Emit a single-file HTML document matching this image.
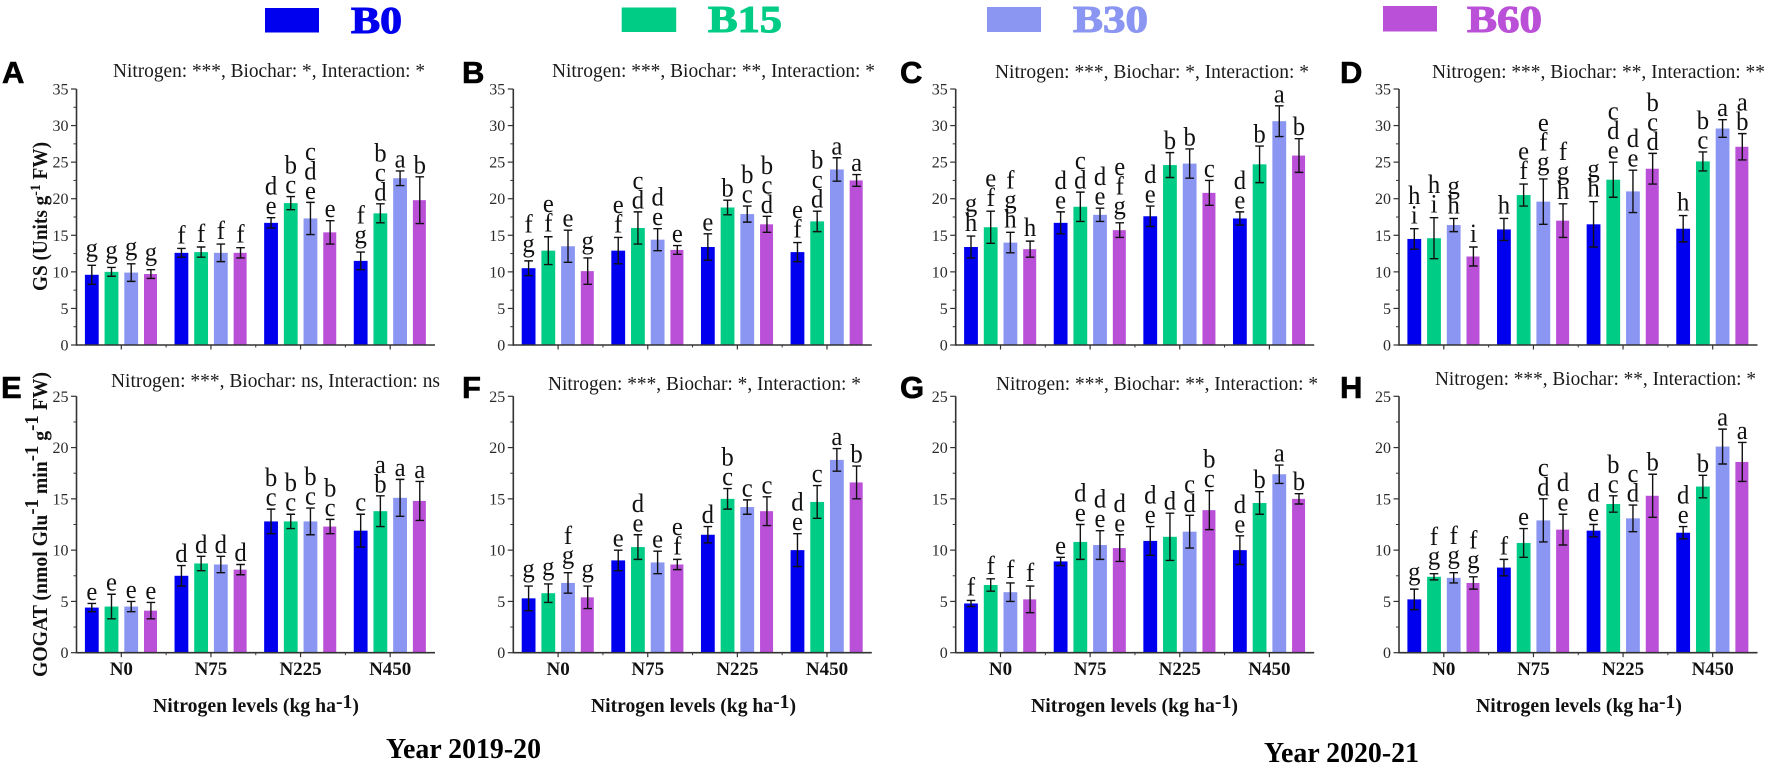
<!DOCTYPE html>
<html lang="en">
<head>
<meta charset="utf-8">
<title>GS and GOGAT activity under nitrogen and biochar treatments</title>
<style>
html,body{margin:0;padding:0;background:#fff;}
svg{display:block;}
text{font-family:"Liberation Serif",serif;}
.panel-tag{font-family:"Liberation Sans",sans-serif;font-weight:700;font-size:31px;fill:#000;stroke:#000;stroke-width:.6px;}
.note{font-size:20px;fill:#1a1a1a;}
.xt{font-size:20px;font-weight:700;fill:#111;}
.yt{font-size:21px;font-weight:700;fill:#111;}
.leg{font-size:38px;font-weight:700;stroke-width:1.1px;}
.year{font-size:29px;font-weight:700;fill:#000;}
</style>
</head>
<body>
<svg id="figure" xmlns="http://www.w3.org/2000/svg" width="1772" height="768" viewBox="0 0 1772 768">
  <rect x="0" y="0" width="1772" height="768" fill="#fff"/>

  <g>
    <rect x="265" y="8" width="54" height="24.5" fill="#0000ee"/>
    <text class="leg" x="351" y="33" fill="#0000ee" stroke="#0000ee" textLength="51" lengthAdjust="spacingAndGlyphs">B0</text>
    <rect x="621.7" y="7.5" width="54.5" height="24.5" fill="#00cc85"/>
    <text class="leg" x="708" y="32" fill="#00cc85" stroke="#00cc85" textLength="74" lengthAdjust="spacingAndGlyphs">B15</text>
    <rect x="987" y="7" width="54" height="25" fill="#8a96f2"/>
    <text class="leg" x="1073" y="32" fill="#8a96f2" stroke="#8a96f2" textLength="75" lengthAdjust="spacingAndGlyphs">B30</text>
    <rect x="1383" y="6" width="54" height="25.5" fill="#bb50d8"/>
    <text class="leg" x="1467" y="32" fill="#bb50d8" stroke="#bb50d8" textLength="75" lengthAdjust="spacingAndGlyphs">B60</text>
  </g>

  <g>
    <text class="panel-tag" x="2" y="83">A</text>
    <text class="panel-tag" x="462" y="83">B</text>
    <text class="panel-tag" x="900" y="83">C</text>
    <text class="panel-tag" x="1340" y="83">D</text>
    <text class="panel-tag" x="1" y="398">E</text>
    <text class="panel-tag" x="462" y="398">F</text>
    <text class="panel-tag" x="900" y="398">G</text>
    <text class="panel-tag" x="1340" y="398">H</text>
  </g>

  <g>
    <text class="note" x="113" y="77" textLength="312" lengthAdjust="spacingAndGlyphs">Nitrogen: ***, Biochar: *, Interaction: *</text>
    <text class="note" x="552" y="77" textLength="323" lengthAdjust="spacingAndGlyphs">Nitrogen: ***, Biochar: **, Interaction: *</text>
    <text class="note" x="995" y="78" textLength="314" lengthAdjust="spacingAndGlyphs">Nitrogen: ***, Biochar: *, Interaction: *</text>
    <text class="note" x="1432" y="78" textLength="333" lengthAdjust="spacingAndGlyphs">Nitrogen: ***, Biochar: **, Interaction: **</text>
    <text class="note" x="111" y="387" textLength="329" lengthAdjust="spacingAndGlyphs">Nitrogen: ***, Biochar: ns, Interaction: ns</text>
    <text class="note" x="548" y="390" textLength="313" lengthAdjust="spacingAndGlyphs">Nitrogen: ***, Biochar: *, Interaction: *</text>
    <text class="note" x="996" y="390" textLength="322" lengthAdjust="spacingAndGlyphs">Nitrogen: ***, Biochar: **, Interaction: *</text>
    <text class="note" x="1435" y="385" textLength="321" lengthAdjust="spacingAndGlyphs">Nitrogen: ***, Biochar: **, Interaction: *</text>
  </g>

  <text class="yt" transform="translate(47 291) rotate(-90)" x="0" y="0" textLength="149" lengthAdjust="spacingAndGlyphs">GS (Units g<tspan dy="-7" font-size="15">-1</tspan><tspan dy="7"> FW)</tspan></text>
  <text class="yt" transform="translate(47 677) rotate(-90)" x="0" y="0" textLength="305" lengthAdjust="spacingAndGlyphs">GOGAT (nmol Glu<tspan dy="-9" font-size="20">-1</tspan><tspan dy="9"> min</tspan><tspan dy="-9" font-size="20">-1</tspan><tspan dy="9"> g</tspan><tspan dy="-9" font-size="20">-1</tspan><tspan dy="9"> FW)</tspan></text>

  <g>
    <text class="xt" x="153" y="712" textLength="206" lengthAdjust="spacingAndGlyphs">Nitrogen levels (kg ha<tspan dy="-4" font-size="20">-1</tspan><tspan dy="4">)</tspan></text>
    <text class="xt" x="591" y="712" textLength="205" lengthAdjust="spacingAndGlyphs">Nitrogen levels (kg ha<tspan dy="-4" font-size="20">-1</tspan><tspan dy="4">)</tspan></text>
    <text class="xt" x="1031" y="712" textLength="207" lengthAdjust="spacingAndGlyphs">Nitrogen levels (kg ha<tspan dy="-4" font-size="20">-1</tspan><tspan dy="4">)</tspan></text>
    <text class="xt" x="1476" y="712" textLength="206" lengthAdjust="spacingAndGlyphs">Nitrogen levels (kg ha<tspan dy="-4" font-size="20">-1</tspan><tspan dy="4">)</tspan></text>
  </g>

  <text class="year" x="386" y="758" textLength="155" lengthAdjust="spacingAndGlyphs">Year 2019-20</text>
  <text class="year" x="1264" y="762" textLength="155" lengthAdjust="spacingAndGlyphs">Year 2020-21</text>

  <g id="plots"></g>
</svg>

<script>
const categories = ['N0', 'N75', 'N225', 'N450'];
const seriesNames = ['B0', 'B15', 'B30', 'B60'];
const seriesColors = ['#0000ee', '#00cc85', '#8a96f2', '#bb50d8'];
const gsTicks = [0, 5, 10, 15, 20, 25, 30, 35];
const gogatTicks = [0, 5, 10, 15, 20, 25];

const valuesA = [[9.6,10,9.9,9.7],[12.6,12.7,12.6,12.6],[16.7,19.4,17.3,15.4],[11.5,18,22.8,19.8]];
const errorsA = [[1.3,0.6,1.2,0.6],[0.6,0.7,1.2,0.7],[0.7,0.9,2.2,1.6],[1.2,1.3,1.0,3.2]];
const lettersA = [['g','g','g','g'],['f','f','f','f'],['d e','b c','c d e','e'],['f g','b c d','a','b']];

const valuesB = [[10.5,12.9,13.5,10.1],[12.9,16,14.4,13],[13.4,18.8,17.9,16.5],[12.7,16.9,24,22.5]];
const errorsB = [[1.0,1.9,2.2,1.8],[1.8,2.2,1.5,0.6],[1.8,1.0,1.1,1.1],[1.3,1.4,1.6,0.8]];
const lettersB = [['f g','e f','e','g'],['e f','c d','d e','e'],['e','b','b c','b c d'],['e f','b c d','a','a']];

const valuesC = [[13.4,16.1,14,13.1],[16.7,18.9,17.8,15.7],[17.6,24.6,24.8,20.8],[17.3,24.7,30.6,25.9]];
const errorsC = [[1.5,2.2,1.4,1.1],[1.5,2.0,0.9,1.0],[1.4,1.7,2.0,1.7],[0.9,2.5,2.1,2.3]];
const lettersC = [['g h','e f','f g h','h'],['d e','c d','d e','e f g'],['d e','b','b','c'],['d e','b','a','b']];

const valuesD = [[14.5,14.6,16.4,12.1],[15.8,20.5,19.6,17],[16.5,22.6,21,24.1],[15.9,25.1,29.6,27.1]];
const errorsD = [[1.4,2.8,0.9,1.3],[1.5,1.5,3.1,2.3],[3.1,2.4,2.9,2.1],[1.8,1.3,1.2,1.8]];
const lettersD = [['h i','h i','g h','i'],['h','e f','e f g','f g h'],['g h','c d e','d e','b c d'],['h','b c','a','a b']];

const valuesE = [[4.4,4.5,4.5,4.1],[7.5,8.7,8.6,8.1],[12.8,12.8,12.8,12.3],[11.9,13.8,15.1,14.8]];
const errorsE = [[0.4,1.2,0.5,0.8],[1.0,0.7,0.8,0.5],[1.2,0.7,1.3,0.7],[1.6,1.5,1.8,1.9]];
const lettersE = [['e','e','e','e'],['d','d','d','d'],['b c','b c','b c','b c'],['c','a b','a','a']];

const valuesF = [[5.3,5.8,6.8,5.4],[9,10.3,8.8,8.6],[11.5,15,14.2,13.8],[10,14.7,18.8,16.6]];
const errorsF = [[1.2,0.9,1.0,1.1],[1.0,1.2,1.1,0.5],[0.8,1.0,0.7,1.4],[1.6,1.6,1.1,1.6]];
const lettersF = [['g','g','f g','g'],['e','d e','e','e f'],['d','b c','c','c'],['d e','c','a','b']];

const valuesG = [[4.8,6.6,5.9,5.2],[8.9,10.8,10.5,10.2],[10.9,11.3,11.8,13.9],[10,14.6,17.4,15]];
const errorsG = [[0.3,0.6,0.9,1.3],[0.4,1.7,1.4,1.3],[1.4,2.3,1.6,1.9],[1.4,1.1,0.9,0.5]];
const lettersG = [['f','f','f','f'],['e','d e','d e','d e'],['d e','d','c d','b c'],['d e','b','a','b']];

const valuesH = [[5.2,7.4,7.3,6.8],[8.3,10.7,12.9,12],[11.9,14.5,13.1,15.3],[11.7,16.2,20.1,18.6]];
const errorsH = [[1.0,0.3,0.5,0.6],[0.8,1.4,2.1,1.5],[0.6,0.8,1.3,2.1],[0.6,1.1,1.7,1.9]];
const lettersH = [['g','f g','f g','f g'],['f','e','c d','d e'],['d e','b c','c d','b'],['d e','b','a','a']];

const SVG_NS = 'http://www.w3.org/2000/svg';
const plots = document.getElementById('plots');

function make(parent, tag, attrs) {
  const el = document.createElementNS(SVG_NS, tag);
  for (const k in attrs) { el.setAttribute(k, attrs[k]); }
  parent.appendChild(el);
  return el;
}

function drawPanel(id, left, top, bottom, ticks, values, errors, letters) {
  const width = 358.5;
  const maxV = ticks[ticks.length - 1];
  const yScale = function (v) { return bottom - (v / maxV) * (bottom - top); };
  const groupW = width / categories.length;
  const xScale = function (g, s) { return left + g * groupW + 15.3 + s * 19.7; };

  const panel = make(plots, 'g', {});
  
  

  values.forEach(function (row, g) {
    row.forEach(function (v, s) {
      const cx = xScale(g, s);
      const y = yScale(v);
      const bar = make(panel, 'rect', { x: cx - 6.9, y: y, width: s === 3 ? 13 : 13.8, height: bottom - y, fill: seriesColors[s] });
      
      

      const e = errors[g][s];
      const yHi = yScale(v + e);
      const yLo = yScale(v - e);
      const err = make(panel, 'path', {
        d: 'M' + (cx - 4.3) + ' ' + yHi + 'H' + (cx + 4.3) + 'M' + cx + ' ' + yHi + 'V' + yLo + 'M' + (cx - 4.3) + ' ' + yLo + 'H' + (cx + 4.3),
        fill: 'none', stroke: '#111', 'stroke-width': 1.4
      });
      
      

      const stack = letters[g][s].split(' ');
      const last = stack[stack.length - 1];
      let baseY = yHi - (last === 'g' ? 9 : (last === 'f' || last === 'h' || last === 'i' ? 5 : 3.5));
      for (let i = stack.length - 1; i >= 0; i--) {
        const t = make(panel, 'text', { transform: 'translate(' + cx + ' ' + baseY + ') scale(0.95 1)', 'text-anchor': 'middle', 'font-size': 26, fill: '#111' });
        
        
        t.textContent = stack[i];
        baseY -= 19.5;
      }
    });
  });

  const yAxis = make(panel, 'line', { x1: left, x2: left, y1: top, y2: bottom + 0.7, stroke: '#333', 'stroke-width': 1.6 });
  
  
  const xAxis = make(panel, 'line', { x1: left, x2: left + width, y1: bottom, y2: bottom, stroke: '#333', 'stroke-width': 1.6 });
  
  

  ticks.forEach(function (v, i) {
    const y = yScale(v);
    const tick = make(panel, 'line', { x1: left - 5.5, x2: left, y1: y, y2: y, stroke: '#333', 'stroke-width': 1.2 });
    
    
    const lab = make(panel, 'text', { x: left - 8, y: y + 5.5, 'text-anchor': 'end', 'font-size': 16, fill: '#2a2a2a' });
    
    
    lab.textContent = String(v);
    if (i < ticks.length - 1) {
      const ym = yScale((v + ticks[i + 1]) / 2);
      const minor = make(panel, 'line', { x1: left - 3, x2: left, y1: ym, y2: ym, stroke: '#333', 'stroke-width': 1 });
      
      
    }
  });

  categories.forEach(function (c, g) {
    const cx = left + (g + 0.5) * groupW;
    const tick = make(panel, 'line', { x1: cx, x2: cx, y1: bottom, y2: bottom + 4.5, stroke: '#333', 'stroke-width': 1.2 });
    
    
    if (g > 0) {
      const bx = left + g * groupW;
      const minor = make(panel, 'line', { x1: bx, x2: bx, y1: bottom, y2: bottom + 2.5, stroke: '#333', 'stroke-width': 1 });
      
      
    }
    if (bottom > 500) {
      const lab = make(panel, 'text', { x: cx, y: bottom + 22.5, 'text-anchor': 'middle', 'font-size': 19, 'font-weight': 700, fill: '#111' });
      
      
      lab.textContent = c;
    }
  });
}

drawPanel('a', 76.5, 89, 345, gsTicks, valuesA, errorsA, lettersA);
drawPanel('b', 513.3, 89, 345, gsTicks, valuesB, errorsB, lettersB);
drawPanel('c', 955.7, 89, 345, gsTicks, valuesC, errorsC, lettersC);
drawPanel('d', 1399, 89, 345, gsTicks, valuesD, errorsD, lettersD);
drawPanel('e', 76.5, 396.3, 652.7, gogatTicks, valuesE, errorsE, lettersE);
drawPanel('f', 513.3, 396.3, 652.7, gogatTicks, valuesF, errorsF, lettersF);
drawPanel('g', 955.7, 396.3, 652.7, gogatTicks, valuesG, errorsG, lettersG);
drawPanel('h', 1399, 396.3, 652.7, gogatTicks, valuesH, errorsH, lettersH);
</script>
</body>
</html>
